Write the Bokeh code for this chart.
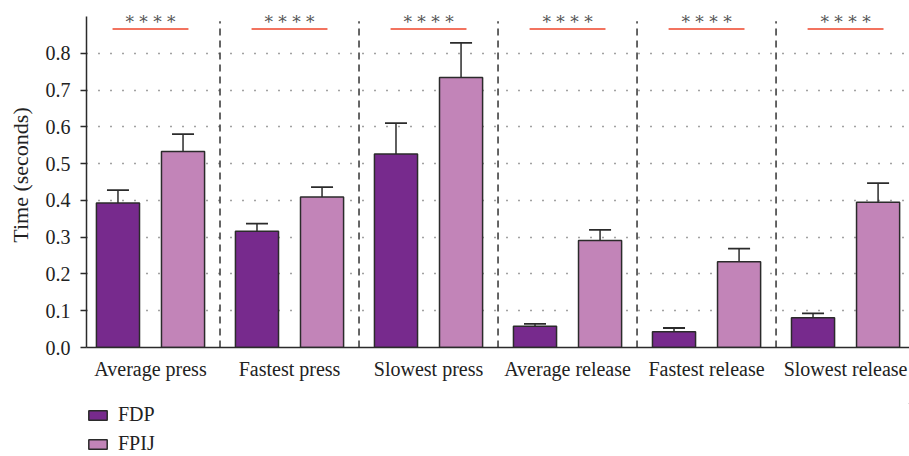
from bokeh.plotting import figure
from bokeh.layouts import column
from bokeh.models import (Range1d, FixedTicker, NumeralTickFormatter, ColumnDataSource,
                          Whisker, TeeHead, Legend, LegendItem)
from bokeh.core.properties import value
from bokeh.embed import file_html
from bokeh.resources import INLINE

# ---- data -------------------------------------------------------------
categories = ["Average press", "Fastest press", "Slowest press",
              "Average release", "Fastest release", "Slowest release"]
series_names = ["FDP", "FPIJ"]
fdp_mean = [0.393, 0.316, 0.526, 0.058, 0.043, 0.081]
fdp_err = [0.035, 0.021, 0.084, 0.006, 0.010, 0.012]
fpij_mean = [0.533, 0.409, 0.734, 0.291, 0.233, 0.395]
fpij_err = [0.047, 0.027, 0.094, 0.029, 0.036, 0.052]
significance = ["****", "****", "****", "****", "****", "****"]
y_ticks = [0.0, 0.1, 0.2, 0.3, 0.4, 0.5, 0.6, 0.7, 0.8]

# ---- styling ----------------------------------------------------------
FDP_COLOR = "#772A8D"
FPIJ_COLOR = "#C284B8"
EDGE = "#2b2b2b"
SIG_COLOR = "#F2735F"
FONT = "Liberation Serif"
TEXT_COLOR = "#222222"
BAR_W = 0.31
OFFSET = 0.234

centers = [i + 0.5 for i in range(len(categories))]
bounds = [float(i) for i in range(1, len(categories))]

p = figure(width=909, height=395,
           x_range=Range1d(0.0396, 5.96), y_range=Range1d(0, 0.938),
           output_backend="svg", toolbar_location=None,
           min_border_left=86, min_border_right=0,
           min_border_top=2, min_border_bottom=48)
p.outline_line_color = None
p.background_fill_color = "white"
p.border_fill_color = "white"

# grid: dotted horizontal lines only
p.xgrid.visible = False
p.ygrid.ticker = FixedTicker(ticks=y_ticks[1:])
p.ygrid.grid_line_color = "#444444"
p.ygrid.grid_line_dash = "1 11"
p.ygrid.grid_line_width = 1.3

# y axis
p.yaxis.ticker = FixedTicker(ticks=y_ticks)
p.yaxis.formatter = NumeralTickFormatter(format="0.0")
p.yaxis.bounds = (0, 0.9)
p.yaxis.axis_label = "Time (seconds)"
p.yaxis.axis_label_text_font = FONT
p.yaxis.axis_label_text_font_size = "22px"
p.yaxis.axis_label_text_font_style = "normal"
p.yaxis.axis_label_text_color = TEXT_COLOR
p.yaxis.axis_label_standoff = 10
p.yaxis.major_label_text_font = FONT
p.yaxis.major_label_text_font_size = "20px"
p.yaxis.major_label_text_color = TEXT_COLOR
p.yaxis.major_label_standoff = 10
p.yaxis.major_tick_out = 6
p.yaxis.major_tick_in = 0
p.yaxis.minor_tick_out = 0
p.yaxis.minor_tick_in = 0
p.yaxis.axis_line_color = EDGE
p.yaxis.axis_line_width = 1.5
p.yaxis.major_tick_line_color = EDGE
p.yaxis.major_tick_line_width = 1.5

# x axis with category labels at group centres
p.xaxis.ticker = FixedTicker(ticks=centers)
p.xaxis.major_label_overrides = {c: name for c, name in zip(centers, categories)}
p.xaxis.major_label_text_font = FONT
p.xaxis.major_label_text_font_size = "20px"
p.xaxis.major_label_text_color = TEXT_COLOR
p.xaxis.major_label_standoff = 10
p.xaxis.major_tick_out = 0
p.xaxis.major_tick_in = 0
p.xaxis.minor_tick_out = 0
p.xaxis.minor_tick_in = 0
p.xaxis.axis_line_color = EDGE
p.xaxis.axis_line_width = 1.5

# group separators
p.segment(x0=bounds, y0=[0] * len(bounds), x1=bounds, y1=[0.887] * len(bounds),
          line_color="#333333", line_width=1.5, line_dash="7 5")

# bars with upper error whiskers
src = ColumnDataSource(dict(
    x_fdp=[c - OFFSET for c in centers], fdp=fdp_mean,
    fdp_hi=[m + e for m, e in zip(fdp_mean, fdp_err)],
    x_fpij=[c + OFFSET for c in centers], fpij=fpij_mean,
    fpij_hi=[m + e for m, e in zip(fpij_mean, fpij_err)],
))

for xcol, lo, hi in (("x_fdp", "fdp", "fdp_hi"), ("x_fpij", "fpij", "fpij_hi")):
    p.add_layout(Whisker(source=src, base=xcol, lower=lo, upper=hi,
                         lower_head=None,
                         upper_head=TeeHead(size=22, line_color=EDGE, line_width=1.8),
                         line_color=EDGE, line_width=1.5, level="glyph"))

p.vbar(x="x_fdp", top="fdp", width=BAR_W, source=src,
       fill_color=FDP_COLOR, line_color=EDGE, line_width=1.5)
p.vbar(x="x_fpij", top="fpij", width=BAR_W, source=src,
       fill_color=FPIJ_COLOR, line_color=EDGE, line_width=1.5)

# significance markers
p.segment(x0=[c - 0.273 for c in centers], y0=[0.866] * len(centers),
          x1=[c + 0.273 for c in centers], y1=[0.866] * len(centers),
          line_color=SIG_COLOR, line_width=2)
p.text(x=centers, y=[0.884] * len(centers),
       text=[" ".join(s) for s in significance],
       text_font=value("DejaVu Serif"), text_font_size="17px", text_color="#555555",
       text_align="center", text_baseline="alphabetic")

# ---- legend below the chart -------------------------------------------
lg = figure(width=909, height=61, x_range=Range1d(0, 1), y_range=Range1d(0, 1),
            output_backend="svg", toolbar_location=None,
            x_axis_type=None, y_axis_type=None,
            min_border_left=85, min_border_top=8,
            min_border_right=0, min_border_bottom=0)
lg.outline_line_color = None
lg.border_fill_color = "white"
# swatch renderers sit outside the visible range; only their legend entries show
g1 = lg.vbar(x=[5], top=[5], bottom=[4], width=0.1,
             fill_color=FDP_COLOR, line_color=EDGE, line_width=1.5)
g2 = lg.vbar(x=[5], top=[5], bottom=[4], width=0.1,
             fill_color=FPIJ_COLOR, line_color=EDGE, line_width=1.5)
legend = Legend(items=[LegendItem(label=series_names[0], renderers=[g1]),
                       LegendItem(label=series_names[1], renderers=[g2])],
                location="top_left", orientation="vertical",
                glyph_width=23, glyph_height=12, label_standoff=9,
                label_text_font=FONT, label_text_font_size="20px",
                label_text_color=TEXT_COLOR, label_height=20,
                spacing=6, margin=0, padding=0,
                border_line_color=None, background_fill_alpha=0)
lg.add_layout(legend)

layout = column(p, lg, spacing=0)
open("out.html", "w").write(file_html(layout, INLINE))
